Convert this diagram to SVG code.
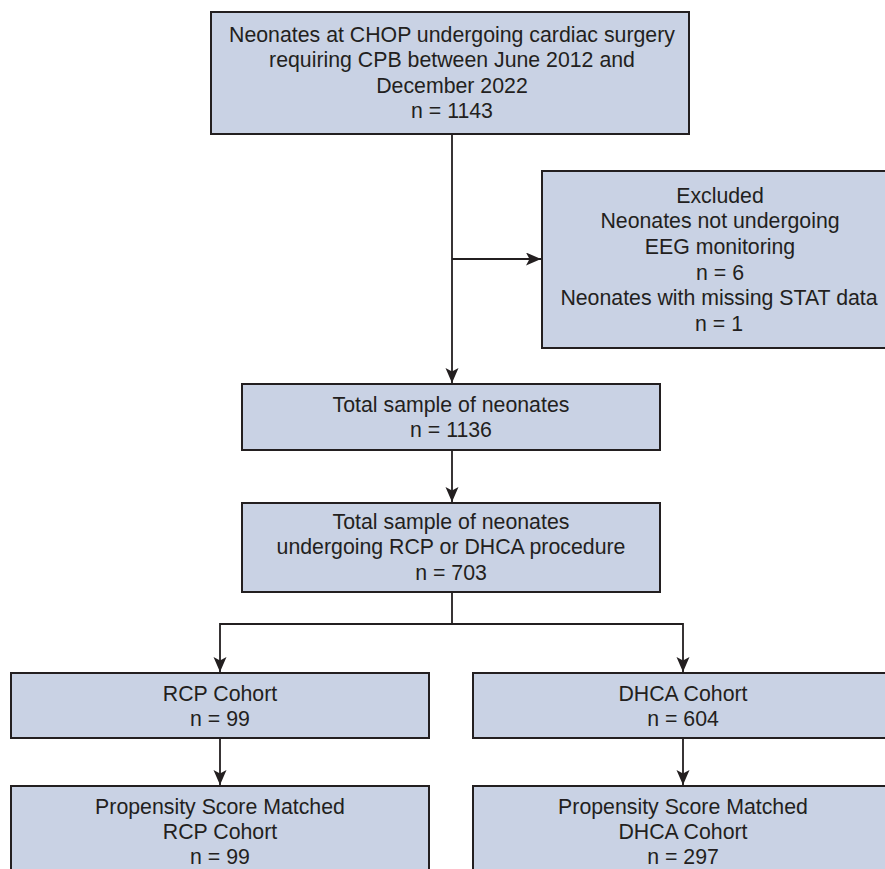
<svg xmlns="http://www.w3.org/2000/svg" width="885" height="869" viewBox="0 0 885 869">
<style>
.box{fill:#c9d2e4;stroke:#231f20;stroke-width:2}
.t{font-family:"Liberation Sans",Arial,sans-serif;font-size:21.3px;fill:#231f20;text-anchor:middle}
.c{fill:none;stroke:#231f20;stroke-width:1.8}
</style>
<defs>
<marker id="ah" markerUnits="userSpaceOnUse" markerWidth="16" markerHeight="14" refX="15" refY="6.5" orient="auto">
<path d="M0,0 L15,6.5 L0,13 L3.5,6.5 Z" fill="#231f20"/>
</marker>
</defs>
<rect width="885" height="869" fill="#fff"/>
<g id="connectors">
<line class="c" x1="452" y1="134" x2="452" y2="383" marker-end="url(#ah)"/>
<line class="c" x1="452" y1="259" x2="541" y2="259" marker-end="url(#ah)"/>
<line class="c" x1="452" y1="450" x2="452" y2="502" marker-end="url(#ah)"/>
<polyline class="c" points="452,592 452,624 220,624 220,672" marker-end="url(#ah)"/>
<polyline class="c" points="452,624 683,624 683,672" marker-end="url(#ah)"/>
<line class="c" x1="220" y1="738" x2="220" y2="785" marker-end="url(#ah)"/>
<line class="c" x1="683" y1="738" x2="683" y2="785" marker-end="url(#ah)"/>
</g>
<g id="n_start">
<rect class="box" x="211" y="12" width="478" height="122"/>
<text class="t" x="452" y="42">Neonates at CHOP undergoing cardiac surgery</text>
<text class="t" x="452" y="67">requiring CPB between June 2012 and</text>
<text class="t" x="452" y="93">December 2022</text>
<text class="t" x="452" y="118">n = 1143</text>
</g>
<g id="n_excluded">
<rect class="box" x="542" y="171" width="356" height="177"/>
<text class="t" x="720" y="203">Excluded</text>
<text class="t" x="720" y="228">Neonates not undergoing</text>
<text class="t" x="720" y="254">EEG monitoring</text>
<text class="t" x="720" y="280">n = 6</text>
<text class="t" x="719" y="305">Neonates with missing STAT data</text>
<text class="t" x="719" y="331">n = 1</text>
</g>
<g id="n_total">
<rect class="box" x="242" y="384" width="418" height="66"/>
<text class="t" x="451" y="412">Total sample of neonates</text>
<text class="t" x="451" y="437">n = 1136</text>
</g>
<g id="n_rcpdhca">
<rect class="box" x="242" y="503" width="418" height="89"/>
<text class="t" x="451" y="529">Total sample of neonates</text>
<text class="t" x="451" y="554">undergoing RCP or DHCA procedure</text>
<text class="t" x="451" y="580">n = 703</text>
</g>
<g id="n_rcp">
<rect class="box" x="11" y="673" width="418" height="65"/>
<text class="t" x="220" y="701">RCP Cohort</text>
<text class="t" x="220" y="726">n = 99</text>
</g>
<g id="n_dhca">
<rect class="box" x="473" y="673" width="420" height="65"/>
<text class="t" x="683" y="701">DHCA Cohort</text>
<text class="t" x="683" y="726">n = 604</text>
</g>
<g id="n_rcp_psm">
<rect class="box" x="11" y="786" width="418" height="100"/>
<text class="t" x="220" y="814">Propensity Score Matched</text>
<text class="t" x="220" y="839">RCP Cohort</text>
<text class="t" x="220" y="864">n = 99</text>
</g>
<g id="n_dhca_psm">
<rect class="box" x="473" y="786" width="420" height="100"/>
<text class="t" x="683" y="814">Propensity Score Matched</text>
<text class="t" x="683" y="839">DHCA Cohort</text>
<text class="t" x="683" y="864">n = 297</text>
</g>
</svg>
